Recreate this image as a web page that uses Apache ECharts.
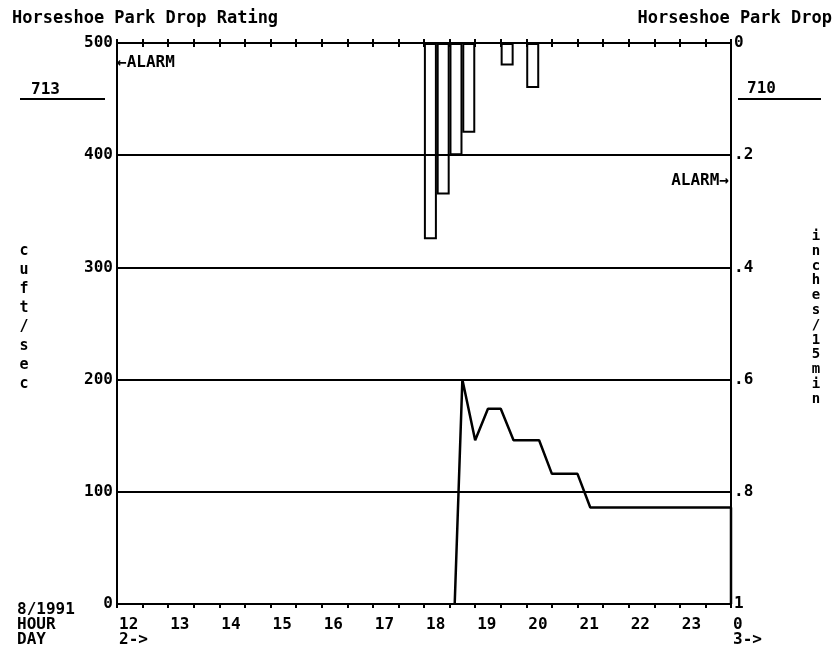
<!DOCTYPE html>
<html>
<head>
<meta charset="utf-8">
<script src="https://cdn.jsdelivr.net/npm/echarts@6/dist/echarts.min.js"></script>
<style>
  html, body { margin: 0; padding: 0; background: #fff; }
  #chart { width: 835px; height: 655px; }
</style>
</head>
<body>
<div id="chart"></div>
<script>
// Hour ticks along the time axis (24 = midnight of the next day)
const hourTicks  = [12, 13, 14, 15, 16, 17, 18, 19, 20, 21, 22, 23, 24];
const hourLabels = ['12', '13', '14', '15', '16', '17', '18', '19', '20', '21', '22', '23', '0'];
const dayMarks   = { 12: '2->', 24: '3->' };

// Discharge at Horseshoe Park Drop (cu ft/sec)
const flowTimes  = [18.6, 18.75, 19, 19.25, 19.5, 19.75, 20, 20.25, 20.5, 20.75, 21, 21.25, 24, 24];
const flowValues = [0, 200, 146, 174, 174, 146, 146, 146, 116, 116, 116, 86, 86, 0];

// Precipitation per 15-minute interval (inches), start of each interval
const rainStarts = [18, 18.25, 18.5, 18.75, 19.5, 20];
const rainValues = [0.35, 0.27, 0.20, 0.16, 0.04, 0.08];

const flowTickLabels = ['0', '100', '200', '300', '400', '500'];
const rainTickLabels = ['0', '.2', '.4', '.6', '.8', '1'];

const FONT = '"DejaVu Sans Mono", monospace';
const INK = '#000';

const chart = echarts.init(document.getElementById('chart'), null, { renderer: 'canvas' });

const timeAxisBase = {
  type: 'value', min: 12, max: 24, interval: 0.5,
  axisLine: { show: true, lineStyle: { color: INK, width: 2 } },
  splitLine: { show: false },
  axisLabel: { show: false }
};

function hourLabel(v) {
  const i = hourTicks.indexOf(v);
  if (i < 0) return '';
  return dayMarks[v] ? hourLabels[i] + '\n' + dayMarks[v] : hourLabels[i];
}

function txt(text, x, y, size, align, vAlign, extra) {
  return {
    type: 'text', x: x, y: y, silent: true,
    style: Object.assign({
      text: text, fill: INK,
      font: 'bold ' + size + 'px ' + FONT,
      align: align, verticalAlign: vAlign
    }, extra || {})
  };
}

function rule(x1, y1, x2, y2) {
  return { type: 'line', silent: true, shape: { x1: x1, y1: y1, x2: x2, y2: y2 },
           style: { stroke: INK, lineWidth: 2 } };
}

chart.setOption({
  animation: false,
  backgroundColor: '#fff',
  grid: { left: 117, right: 104, top: 43, bottom: 51, containLabel: false },
  xAxis: [
    Object.assign({}, timeAxisBase, {
      position: 'bottom',
      axisTick: { show: true, inside: false, length: 4, lineStyle: { color: INK, width: 2 } },
      axisLabel: {
        show: true, interval: 0, formatter: hourLabel,
        align: 'left', verticalAlign: 'top', margin: 13, padding: [0, 0, 0, 2],
        fontFamily: FONT, fontWeight: 'bold', fontSize: 16, lineHeight: 15, color: INK
      }
    }),
    Object.assign({}, timeAxisBase, {
      position: 'bottom',
      axisTick: { show: true, inside: true, length: 4, lineStyle: { color: INK, width: 2 } }
    }),
    Object.assign({}, timeAxisBase, {
      position: 'top',
      axisTick: { show: true, inside: true, length: 4, lineStyle: { color: INK, width: 2 } }
    }),
    Object.assign({}, timeAxisBase, {
      position: 'top',
      axisTick: { show: true, inside: false, length: 4, lineStyle: { color: INK, width: 2 } }
    })
  ],
  yAxis: [
    {
      type: 'value', position: 'left', min: 0, max: 500, interval: 100,
      axisLine: { show: true, lineStyle: { color: INK, width: 2 } },
      axisTick: { show: false },
      splitLine: { show: true, lineStyle: { color: INK, width: 2 } },
      axisLabel: {
        margin: 4, color: INK, fontFamily: FONT, fontWeight: 'bold', fontSize: 16,
        formatter: v => flowTickLabels[Math.round(v / 100)]
      }
    },
    {
      type: 'value', position: 'right', inverse: true, min: 0, max: 1, interval: 0.2,
      axisLine: { show: true, lineStyle: { color: INK, width: 2 } },
      axisTick: { show: false },
      splitLine: { show: false },
      axisLabel: {
        margin: 3, color: INK, fontFamily: FONT, fontWeight: 'bold', fontSize: 16,
        formatter: v => rainTickLabels[Math.round(v / 0.2)]
      }
    }
  ],
  series: [
    {
      name: 'precip', type: 'bar', xAxisIndex: 0, yAxisIndex: 1,
      barWidth: 13, z: 3,
      itemStyle: { color: 'rgba(0,0,0,0)', borderColor: INK, borderWidth: 2 },
      data: rainStarts.map((t, i) => [t + 0.125, rainValues[i]])
    },
    {
      name: 'flow', type: 'line', xAxisIndex: 0, yAxisIndex: 0,
      showSymbol: false, symbol: 'none', z: 4,
      lineStyle: { color: INK, width: 2.5 },
      data: flowTimes.map((t, i) => [t, flowValues[i]])
    }
  ],
  graphic: [
    txt('Horseshoe Park Drop Rating', 12, 19, 17, 'left', 'middle'),
    txt('Horseshoe Park Drop', 832, 19, 17, 'right', 'middle'),
    txt('713', 31, 90, 16, 'left', 'middle'),
    rule(20, 99, 105, 99),
    txt('710', 747, 89, 16, 'left', 'middle'),
    rule(738, 99, 821, 99),
    txt('\u2190ALARM', 117, 63, 16, 'left', 'middle'),
    txt('ALARM\u2192', 729, 181, 16, 'right', 'middle'),
    txt('c\nu\nf\nt\n/\ns\ne\nc', 24, 242, 15, 'center', 'top', { lineHeight: 19 }),
    txt('i\nn\nc\nh\ne\ns\n/\n1\n5\nm\ni\nn', 816, 229, 14, 'center', 'top', { lineHeight: 14.8 }),
    txt('8/1991', 17, 610, 16, 'left', 'middle'),
    txt('HOUR', 17, 625, 16, 'left', 'middle'),
    txt('DAY', 17, 640, 16, 'left', 'middle')
  ]
});
</script>
</body>
</html>
